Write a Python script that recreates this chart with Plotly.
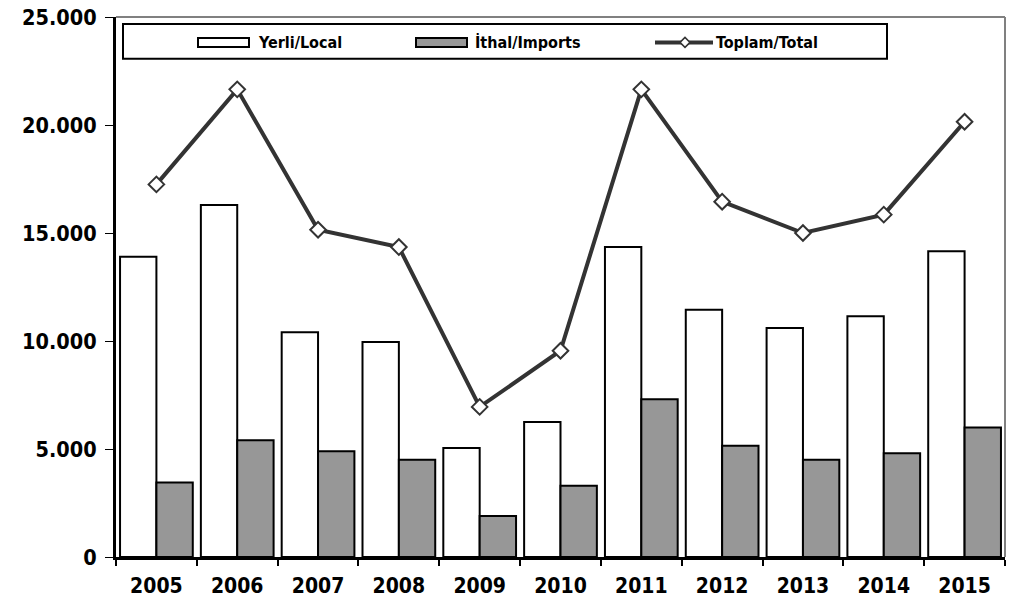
import plotly.graph_objects as go

# Annual figures, 2005-2015
years = ["2005", "2006", "2007", "2008", "2009", "2010",
         "2011", "2012", "2013", "2014", "2015"]
local = [13900, 16300, 10400, 9950, 5050, 6250, 14350, 11450, 10600, 11150, 14150]
imports = [3450, 5400, 4900, 4500, 1900, 3300, 7300, 5150, 4500, 4800, 6000]
total = [17250, 21650, 15150, 14350, 6950, 9550, 21650, 16450, 15000, 15850, 20150]

y_ticks = [0, 5000, 10000, 15000, 20000, 25000]

name_local = "Yerli/Local"
name_imports = "İthal/Imports"
name_total = "Toplam/Total"

W, H = 1010, 603
ML, MR, MT, MB = 116, 5, 16, 45
PW, PH = W - ML - MR, H - MT - MB

FONT = "DejaVu Sans Condensed, DejaVu Sans, sans-serif"
DARK = "#333333"
GRAY = "#979797"


def px(x):
    return (x - ML) / PW


def py(y):
    return (H - MB - y) / PH


fig = go.Figure()
fig.add_trace(go.Bar(x=years, y=local, name=name_local,
                     marker=dict(color="white", line=dict(color="black", width=2))))
fig.add_trace(go.Bar(x=years, y=imports, name=name_imports,
                     marker=dict(color=GRAY, line=dict(color="black", width=2))))
fig.add_trace(go.Scatter(x=years, y=total, name=name_total, mode="lines+markers",
                         line=dict(color=DARK, width=4),
                         marker=dict(symbol="diamond", size=12, color="white",
                                     line=dict(color=DARK, width=2))))

shapes = [
    # top and right frame lines
    dict(type="line", xref="paper", yref="paper", x0=0, x1=1, y0=1, y1=1,
         line=dict(color="#808080", width=2)),
    dict(type="line", xref="paper", yref="paper", x0=1, x1=1, y0=0, y1=1,
         line=dict(color="#808080", width=2)),
    # legend box
    dict(type="rect", xref="paper", yref="paper", x0=px(123), x1=px(887),
         y0=py(58), y1=py(23), line=dict(color="black", width=2), fillcolor="white"),
    # legend swatches
    dict(type="rect", xref="paper", yref="paper", x0=px(198), x1=px(249),
         y0=py(46), y1=py(37), line=dict(color="black", width=2), fillcolor="white"),
    dict(type="rect", xref="paper", yref="paper", x0=px(416), x1=px(467),
         y0=py(46), y1=py(37), line=dict(color="black", width=2), fillcolor=GRAY),
    dict(type="line", xref="paper", yref="paper", x0=px(655), x1=px(713),
         y0=py(41.5), y1=py(41.5), line=dict(color=DARK, width=4)),
    dict(type="path", xref="paper", yref="paper",
         path=(f"M {px(680)},{py(41.5)} L {px(685)},{py(36.5)} "
               f"L {px(690)},{py(41.5)} L {px(685)},{py(46.5)} Z"),
         line=dict(color=DARK, width=1.5), fillcolor="white"),
]

legend_font = dict(family=FONT, size=16, color="black", weight="bold")
annotations = [
    dict(xref="paper", yref="paper", x=px(x0), y=py(41.5), text=t,
         xanchor="left", yanchor="middle", showarrow=False, font=legend_font)
    for x0, t in [(256, name_local), (473, name_imports), (714, name_total)]
]

fig.update_layout(
    width=W, height=H,
    margin=dict(l=ML, r=MR, t=MT, b=MB, pad=0),
    paper_bgcolor="white", plot_bgcolor="white",
    barmode="group", bargap=0.1, bargroupgap=0,
    separators=",.",
    showlegend=False,
    shapes=shapes,
    annotations=annotations,
    font=dict(family=FONT, color="black"),
)

fig.update_xaxes(
    type="category", range=[-0.5, len(years) - 0.5],
    showline=True, linecolor="black", linewidth=3,
    ticks="outside", tickson="boundaries", ticklen=6, tickwidth=2, tickcolor="black",
    ticklabelstandoff=8,
    tickfont=dict(family=FONT, size=21, color="black", weight="bold"),
    showgrid=False, zeroline=False,
)

fig.update_yaxes(
    range=[0, 25000],
    tickvals=y_ticks, tickformat=",d",
    showline=True, linecolor="black", linewidth=3,
    ticks="outside", ticklen=8, tickwidth=1, tickcolor="black",
    ticklabelstandoff=4,
    tickfont=dict(family=FONT, size=21.5, color="black", weight="bold"),
    showgrid=False, zeroline=False,
)

fig.write_html("out.html")
